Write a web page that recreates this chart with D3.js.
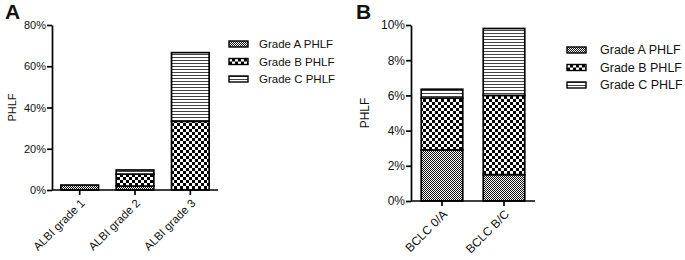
<!DOCTYPE html>
<html>
<head>
<meta charset="utf-8">
<script src="https://cdn.jsdelivr.net/npm/d3@7"></script>
<style>
  body { margin: 0; background: #fff; }
  svg text { font-family: "Liberation Sans", Arial, sans-serif; fill: #111; }
</style>
</head>
<body>
<svg id="chart" width="685" height="260"></svg>
<script>
// series names
const gradeNames = ['Grade A PHLF', 'Grade B PHLF', 'Grade C PHLF'];

// panel A: ALBI grade (% PHLF)
const albiCategories = ['ALBI grade 1', 'ALBI grade 2', 'ALBI grade 3'];
const albiGradeA = [2.4, 1.9, 0];
const albiGradeB = [0, 5.8, 33.3];
const albiGradeC = [0, 2.0, 33.3];
const albiTicks = [0, 20, 40, 60, 80];

// panel B: BCLC stage (% PHLF)
const bclcCategories = ['BCLC 0/A', 'BCLC B/C'];
const bclcGradeA = [2.9, 1.5];
const bclcGradeB = [2.95, 4.5];
const bclcGradeC = [0.5, 3.8];
const bclcTicks = [0, 2, 4, 6, 8, 10];

const svg = d3.select('#chart');
svg.append('rect').attr('width', 685).attr('height', 260).attr('fill', '#fff');

// patterns for the three grades
const defs = svg.append('defs');

let pA = defs.append('pattern').attr('id', 'patA')
    .attr('patternUnits', 'userSpaceOnUse').attr('width', 2).attr('height', 2);
pA.append('rect').attr('width', 2).attr('height', 2).attr('fill', '#fff');
pA.append('rect').attr('width', 1).attr('height', 1).attr('fill', '#111');
pA.append('rect').attr('x', 1).attr('y', 1).attr('width', 1).attr('height', 1).attr('fill', '#111');

let pB = defs.append('pattern').attr('id', 'patB')
    .attr('patternUnits', 'userSpaceOnUse').attr('width', 6).attr('height', 6);
pB.append('rect').attr('width', 6).attr('height', 6).attr('fill', '#fff');
pB.append('rect').attr('width', 3).attr('height', 3).attr('fill', '#000');
pB.append('rect').attr('x', 3).attr('y', 3).attr('width', 3).attr('height', 3).attr('fill', '#000');

let pC = defs.append('pattern').attr('id', 'patC')
    .attr('patternUnits', 'userSpaceOnUse').attr('width', 4).attr('height', 3);
pC.append('rect').attr('width', 4).attr('height', 3).attr('fill', '#fff');
pC.append('rect').attr('y', 0).attr('width', 4).attr('height', 1).attr('fill', '#444');

const fills = ['url(#patA)', 'url(#patB)', 'url(#patC)'];

function drawPanel(cfg, categories, seriesA, seriesB, seriesC, ticks) {
    const g = svg.append('g');

    const x = d3.scaleBand()
        .domain(categories)
        .range([cfg.left, cfg.right])
        .paddingInner(cfg.pad)
        .paddingOuter(cfg.pad / 2);

    const y = d3.scaleLinear()
        .domain([0, ticks[ticks.length - 1]])
        .range([cfg.bottom, cfg.top]);

    const rows = categories.map((c, i) => ({ cat: c, a: seriesA[i], b: seriesB[i], c: seriesC[i] }));
    const stacked = d3.stack().keys(['a', 'b', 'c'])(rows);

    stacked.forEach((layer, k) => {
        g.selectAll(null)
            .data(layer.filter(d => d[1] - d[0] > 0))
            .enter()
            .append('rect')
            .attr('x', d => x(d.data.cat))
            .attr('width', x.bandwidth())
            .attr('y', d => y(d[1]))
            .attr('height', d => y(d[0]) - y(d[1]))
            .attr('fill', fills[k])
            .attr('stroke', '#000')
            .attr('stroke-width', 1.7);
    });

    // y axis
    const yAxis = g.append('g')
        .attr('transform', `translate(${cfg.left},0)`)
        .call(d3.axisLeft(y).tickValues(ticks).tickFormat(d => d + '%').tickSize(5).tickSizeOuter(0));
    yAxis.selectAll('path, line').attr('stroke', '#000').attr('stroke-width', 1.7);
    yAxis.selectAll('text').style('font-size', cfg.font + 'px').attr('x', -6);

    // x axis
    const xAxis = g.append('g')
        .attr('transform', `translate(0,${cfg.bottom})`)
        .call(d3.axisBottom(x).tickSize(5).tickSizeOuter(0));
    xAxis.select('.domain').attr('d', `M${cfg.left},0H${cfg.right}`);
    xAxis.selectAll('path, line').attr('stroke', '#000').attr('stroke-width', 1.7);
    xAxis.selectAll('text')
        .style('font-size', cfg.xFont + 'px')
        .style('text-anchor', 'end')
        .attr('x', 0).attr('y', 0).attr('dy', '0.35em')
        .attr('transform', 'translate(3,11) rotate(-45)');

    // axis title
    g.append('text')
        .attr('transform', `translate(${cfg.titleX},${(cfg.top + cfg.bottom) / 2}) rotate(-90)`)
        .attr('text-anchor', 'middle')
        .attr('dy', '0.35em')
        .style('font-size', cfg.font + 'px')
        .text('PHLF');

    // panel letter
    g.append('text')
        .attr('x', cfg.letterX).attr('y', 19)
        .style('font-size', '21px').style('font-weight', 'bold')
        .text(cfg.letter);

    // legend
    const leg = g.selectAll(null).data(gradeNames).enter().append('g')
        .attr('transform', (d, i) => `translate(${cfg.legX},${cfg.legY + i * 17.5})`);
    leg.append('rect')
        .attr('x', 0).attr('y', -3).attr('width', 19).attr('height', 6)
        .attr('fill', (d, i) => fills[i])
        .attr('stroke', '#000').attr('stroke-width', 1.4);
    leg.append('text')
        .attr('x', cfg.legText).attr('dy', '0.35em')
        .style('font-size', (cfg.font + 0.5) + 'px')
        .text(d => d);
}

drawPanel({ left: 52, right: 218, top: 25, bottom: 190, pad: 0.32, font: 11, xFont: 11.5,
            titleX: 12, letter: 'A', letterX: 5, legX: 229, legY: 44, legText: 30 },
          albiCategories, albiGradeA, albiGradeB, albiGradeC, albiTicks);

drawPanel({ left: 411, right: 535, top: 25, bottom: 201, pad: 0.33, font: 12, xFont: 12,
            titleX: 365, letter: 'B', letterX: 356, legX: 567, legY: 50, legText: 33 },
          bclcCategories, bclcGradeA, bclcGradeB, bclcGradeC, bclcTicks);
</script>
</body>
</html>
